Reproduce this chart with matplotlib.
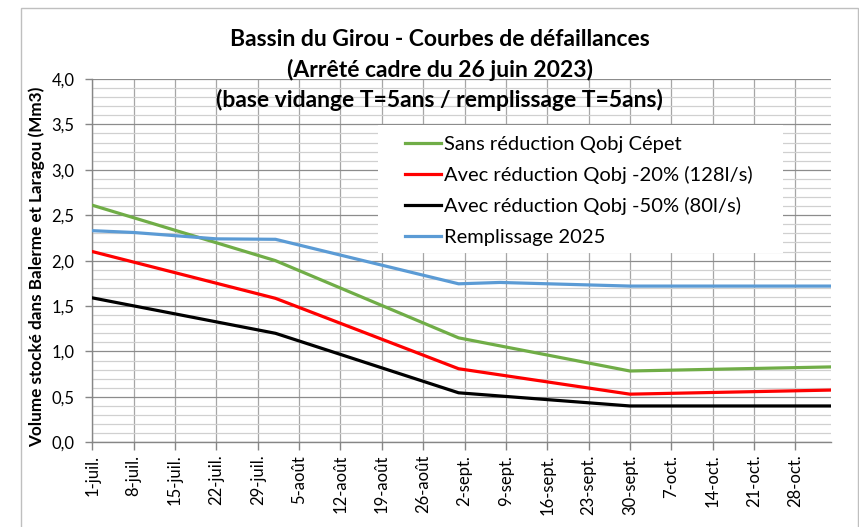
import matplotlib
matplotlib.use("Agg")
import matplotlib.pyplot as plt
from matplotlib.patches import Rectangle
import pandas as pd

plt.rcParams['font.family'] = ['Lato', 'DejaVu Sans']

# ---- data ----
dates_main = ["2025-07-01", "2025-08-01", "2025-09-01", "2025-09-30", "2025-11-03"]
sans_reduction = [2.61, 2.00, 1.15, 0.785, 0.83]
reduction_20 = [2.10, 1.585, 0.81, 0.53, 0.575]
reduction_50 = [1.59, 1.20, 0.545, 0.40, 0.40]

dates_remp = ["2025-07-01", "2025-07-08", "2025-07-15", "2025-07-22", "2025-08-01",
              "2025-09-01", "2025-09-08", "2025-09-30", "2025-11-03"]
remplissage = [2.33, 2.31, 2.275, 2.24, 2.235, 1.745, 1.76, 1.72, 1.72]

tick_dates = pd.date_range("2025-07-01", "2025-10-28", freq="7D")
tick_labels = ["1-juil.", "8-juil.", "15-juil.", "22-juil.", "29-juil.", "5-août",
               "12-août", "19-août", "26-août", "2-sept.", "9-sept.", "16-sept.",
               "23-sept.", "30-sept.", "7-oct.", "14-oct.", "21-oct.", "28-oct."]
y_ticks = [0.0, 0.5, 1.0, 1.5, 2.0, 2.5, 3.0, 3.5, 4.0]
y_labels = ["0,0", "0,5", "1,0", "1,5", "2,0", "2,5", "3,0", "3,5", "4,0"]

series_names = ["Sans réduction Qobj Cépet", "Avec réduction Qobj -20% (128l/s)",
                "Avec réduction Qobj -50% (80l/s)", "Remplissage 2025"]
colors = ["#70AD47", "#FF0000", "#000000", "#5B9BD5"]

title_lines = ["Bassin du Girou - Courbes de défaillances",
               "(Arrêté cadre du 26 juin 2023)",
               "(base vidange T=5ans / remplissage T=5ans)"]
ylabel = "Volume stocké dans Balerme et Laragou (Mm3)"

# ---- figure ----
W, H = 859, 527
fig = plt.figure(figsize=(W / 100, H / 100), dpi=100)
fig.patch.set_facecolor("white")

# chart area border
fig.add_artist(Rectangle((21 / W, -0.1), (858 - 21) / W, 1.1 - 8 / H,
                         transform=fig.transFigure, fill=False,
                         edgecolor="#BFBFBF", linewidth=1.0))

x0, x1, yt, yb = 92.4, 830.7, 79.0, 442.3
ax = fig.add_axes([x0 / W, 1 - yb / H, (x1 - x0) / W, (yb - yt) / H])

dm = pd.to_datetime(dates_main)
dr = pd.to_datetime(dates_remp)
lw = 2.3
ax.plot(dm, sans_reduction, color=colors[0], lw=lw, label=series_names[0], zorder=3)
ax.plot(dm, reduction_20, color=colors[1], lw=lw, label=series_names[1], zorder=3)
ax.plot(dm, reduction_50, color=colors[2], lw=lw, label=series_names[2], zorder=3)
ax.plot(dr, remplissage, color=colors[3], lw=lw, label=series_names[3], zorder=3)

ax.set_xlim(pd.Timestamp("2025-07-01"), pd.Timestamp("2025-11-03"))
ax.set_ylim(0, 4.0)

ax.set_xticks(tick_dates)
ax.set_xticklabels(tick_labels, rotation=90, fontsize=12, va="top", ha="center")
ax.set_yticks(y_ticks)
ax.set_yticklabels(y_labels, fontsize=12)
ax.set_yticks([v / 10 for v in range(0, 41) if v % 5 != 0], minor=True)

ax.tick_params(axis="x", direction="out", length=6, width=1, color="#868686", pad=3)
ax.tick_params(axis="y", which="major", direction="out", length=5, width=1, color="#868686", pad=8)
ax.tick_params(axis="y", which="minor", length=0)

ax.grid(True, axis="y", which="major", color="#8C8C8C", lw=0.9, zorder=0)
ax.grid(True, axis="y", which="minor", color="#D0D0D0", lw=0.9, zorder=0)
ax.grid(True, axis="x", which="major", color="#A6A6A6", lw=0.9, zorder=0)
ax.set_axisbelow(True)

for s in ["top", "right"]:
    ax.spines[s].set_visible(False)
for s in ["left", "bottom"]:
    ax.spines[s].set_color("#868686")
    ax.spines[s].set_linewidth(1.0)

# legend background (white box hiding gridlines)
lx0, lx1, ly0, ly1 = 378, 783, 125, 253
bg = Rectangle((lx0 / W, 1 - ly1 / H), (lx1 - lx0) / W, (ly1 - ly0) / H,
               transform=fig.transFigure, facecolor="white", edgecolor="none", zorder=2)
ax.add_artist(bg)

leg = ax.legend(loc="upper left",
                bbox_to_anchor=((405 - x0) / (x1 - x0), (yb - 136) / (yb - yt)),
                fontsize=14.5, frameon=False, handlelength=1.8, handletextpad=0.15,
                labelspacing=0.65, borderpad=0, borderaxespad=0)
leg.set_zorder(5)
for line in leg.get_lines():
    line.set_linewidth(2.3)

# titles
cx = 439.5 / W
for t, ypx in zip(title_lines, [40, 70, 100]):
    fig.text(cx, 1 - ypx / H, t, ha="center", va="center", fontsize=16.5,
             fontweight="bold", zorder=10)

fig.text(36.5 / W, 1 - 266.5 / H, ylabel, rotation=90, ha="center", va="center",
         fontsize=12.3, fontweight="bold")

fig.savefig("out.png", dpi=100)
